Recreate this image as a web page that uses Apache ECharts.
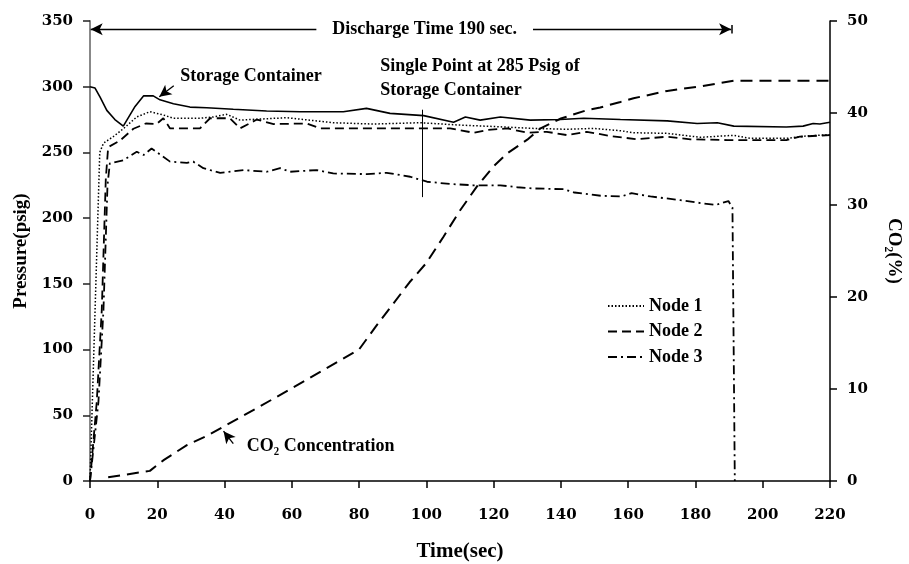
<!DOCTYPE html>
<html><head><meta charset="utf-8">
<script src="https://cdn.jsdelivr.net/npm/echarts@6/dist/echarts.min.js"></script>
<style>html,body{margin:0;padding:0;background:#fff}#c{width:909px;height:564px}</style>
</head><body><div id="c"></div><script>
// ---- data ----
const storageTime = [0,1.5,3,5,7.4,9.9,13.4,15.9,18.8,20.8,24.8,29.7,34.7,42.6,52.5,62.5,75.3,82.2,89.2,99.2,108.1,111.6,116,122,130.9,139.8,146.8,157.7,171.6,180.5,186.5,191.4,207,212,215,217,220];
const storagePressure = [300,299,292,282,275,270,285,293,293,290,287,284.5,284,282.8,281.5,281,281,283.5,279.7,278,273,277,274.6,277,274.6,275,276,275,274,272,272.6,270,269.3,270,272,271.6,273];

const node1Time = [0,2.9,4,6.9,9.9,13.9,17.8,21.8,24.8,32.7,36.7,40.6,44.6,50.5,58.5,67.4,72.3,84.2,98.1,110,122,131.9,141.8,149.7,157.7,161.6,171.6,181.5,191.3,196.3,207,213,220];
const node1Pressure = [0,250,257,262,268,277,281,278.5,276,276,277,279,274.6,275.4,276.4,274,272.6,271.6,272.6,270.8,269.5,268.3,267.6,268.3,266.5,265,264.5,261.5,263,260.7,260.7,262.5,263.5];

const node2Time = [0,2,3.5,4.7,5.4,8.9,12.9,16.6,19.8,21.8,23.8,32.7,35.7,41.6,44.6,49.6,54.6,64.5,68.4,82.3,107.1,114,118,124,130,135.8,141.8,147.7,154.7,162.6,171.6,178.5,189.4,207,211,220];
const node2Pressure = [0,60,130,230,254,259,268,272,271.6,276,268.3,268.3,276,276,268.3,275,271.6,272,268.3,268.3,268.3,265,267,268.3,265,265.7,263.2,265.7,262.5,260,262,260,259.4,259.4,262,263.2];

const node3Time = [0,2.5,4,5.2,5.9,9.9,13.9,15.9,18.3,23.8,28.8,30.7,33.7,38.7,45.6,52.5,56.5,59.5,67.4,72.3,82.3,88.2,95.2,100.2,107.1,114,122,127,131.9,140.8,144,152,158,161,166.6,175.5,181.5,186,189.8,191,191.7];
const node3Pressure = [0,60,130,225,241.7,244,250.5,248,253,243,242,243,238,234.5,236.6,235.3,238,235.3,236.6,234,233.5,234.5,231.5,227.7,226,225,225,223.5,222.6,222,219.5,217,216.5,219,216.5,213.7,211.5,210,213,208,0];

const co2Time = [5.4,17.8,22,28.8,34.7,40.6,50,64.4,80,85,90,95,100,105,110,115,120,124,130,133.8,140,147.6,151.7,157.7,161.6,171.6,181.5,191.4,220];
const co2Percent = [0.4,1.1,2.3,3.9,4.9,6.1,8.0,11.0,14.3,16.8,19.2,21.6,23.7,26.5,29.4,32,34.2,35.6,37.1,38.3,39.4,40.3,40.6,41.2,41.6,42.4,42.9,43.5,43.5];

const xTicks = {min:0,max:220,interval:20};
const pTicks = {min:0,max:350,interval:50};
const cTicks = {min:0,max:50,interval:10};

const legendNames = ['Node 1','Node 2','Node 3'];

// annotation anchors in data coordinates [time, pressure]
const annDischarge = {text:'Discharge Time 190 sec.', at:[99.5,343.7], from:[0.2,343.7], to:[190.6,343.7], bar:[[190.9,340.5],[190.9,347]]};
const annStorage = {text:'Storage Container', at:[26.8,307.6], from:[24.9,300.8], to:[20.6,292.4]};
const annSingle = {text:'Single Point at 285 Psig of\nStorage Container', at:[86.3,306.6], line:[[98.9,282.5],[98.9,216]]};
const annCO2 = {text:'CO\u2082 Concentration', at:[46.6,26.5], from:[42.6,28.5], to:[39.7,37.9]};

// ---- chart ----
const zip = (a,b)=>a.map((v,i)=>[v,b[i]]);
const SERIF = 'Liberation Serif';
const TICKFONT = 'DejaVu Serif';
const chart = echarts.init(document.getElementById('c'), null, {renderer:'canvas'});

const option = {
  animation:false,
  backgroundColor:'#fff',
  grid:{left:90, right:79, top:21, bottom:83, containLabel:false, outerBoundsMode:'none'},
  legend:{
    data:legendNames, orient:'vertical', left:602, top:292,
    itemWidth:36, itemHeight:20, itemGap:7.5,
    itemStyle:{opacity:0},
    lineStyle:{inactiveColor:'#ccc'},
    textStyle:{fontFamily:SERIF, fontWeight:'bold', fontSize:18, color:'#000', padding:[0,0,0,0]}
  },
  xAxis:{
    type:'value', min:xTicks.min, max:xTicks.max, interval:xTicks.interval,
    name:'Time(sec)', nameLocation:'middle', nameGap:60,
    nameTextStyle:{fontFamily:SERIF, fontWeight:'bold', fontSize:21, color:'#000'},
    axisLine:{show:true, lineStyle:{color:'#000', width:1.5}},
    axisTick:{show:true, inside:false, length:7, lineStyle:{color:'#000', width:1.5}},
    axisLabel:{margin:27, fontFamily:TICKFONT, fontWeight:'bold', fontSize:15, color:'#000'},
    splitLine:{show:false}
  },
  yAxis:[{
    type:'value', min:pTicks.min, max:pTicks.max, interval:pTicks.interval, position:'left',
    name:'Pressure(psig)', nameLocation:'middle', nameGap:59,
    nameTextStyle:{fontFamily:SERIF, fontWeight:'bold', fontSize:19, color:'#000'},
    axisLine:{show:true, lineStyle:{color:'#888', width:2}},
    axisTick:{show:true, inside:false, length:7, lineStyle:{color:'#222', width:1.5}},
    axisLabel:{margin:17, fontFamily:TICKFONT, fontWeight:'bold', fontSize:15, color:'#000'},
    splitLine:{show:false}
  },{
    type:'value', min:cTicks.min, max:cTicks.max, interval:cTicks.interval, position:'right',
    name:'CO\u2082(%)', nameLocation:'middle', nameGap:54, nameRotate:-90,
    nameTextStyle:{fontFamily:SERIF, fontWeight:'bold', fontSize:19, color:'#000'},
    axisLine:{show:true, lineStyle:{color:'#000', width:1.5}},
    axisTick:{show:true, inside:false, length:7, lineStyle:{color:'#000', width:1.5}},
    axisLabel:{margin:17, fontFamily:TICKFONT, fontWeight:'bold', fontSize:15, color:'#000'},
    splitLine:{show:false}
  }],
  series:[
    {
      name:'Storage Container', type:'line', yAxisIndex:0, symbol:'none', smooth:false,
      data:zip(storageTime, storagePressure),
      lineStyle:{color:'#000', width:1.6, type:'solid'},
      z:3,
      markLine:{
        silent:true, animation:false, symbolSize:[9,12],
        label:{show:false},
        data:[
          [{coord:annDischarge.from, symbol:'arrow', lineStyle:{color:'#000',width:1.3,type:'solid'}},
           {coord:annDischarge.to, symbol:'arrow'}],
          [{coord:annDischarge.bar[0], symbol:'none', lineStyle:{color:'#000',width:1.5,type:'solid'}},
           {coord:annDischarge.bar[1], symbol:'none'}],
          [{coord:annStorage.from, symbol:'none', lineStyle:{color:'#000',width:1.3,type:'solid'}},
           {coord:annStorage.to, symbol:'arrow'}],
          [{coord:annCO2.from, symbol:'none', lineStyle:{color:'#000',width:1.3,type:'solid'}},
           {coord:annCO2.to, symbol:'arrow'}],
          [{coord:annSingle.line[0], symbol:'none', lineStyle:{color:'#000',width:1,type:'solid'}},
           {coord:annSingle.line[1], symbol:'none'}]
        ]
      }
    },
    {
      name:'Node 1', type:'line', yAxisIndex:0, symbol:'none',
      data:zip(node1Time, node1Pressure),
      lineStyle:{color:'#000', width:1.5, type:[1.5,2]}, itemStyle:{color:'#000'}
    },
    {
      name:'Node 2', type:'line', yAxisIndex:0, symbol:'none',
      data:zip(node2Time, node2Pressure),
      lineStyle:{color:'#000', width:1.8, type:[9,5]}, itemStyle:{color:'#000'}
    },
    {
      name:'Node 3', type:'line', yAxisIndex:0, symbol:'none',
      data:zip(node3Time, node3Pressure),
      lineStyle:{color:'#000', width:1.8, type:[9,4,2,4]}, itemStyle:{color:'#000'}
    },
    {
      name:'CO2 Concentration', type:'line', yAxisIndex:1, symbol:'none',
      data:zip(co2Time, co2Percent),
      lineStyle:{color:'#000', width:2, type:[12,7]}, itemStyle:{color:'#000'}
    }
  ]
};
chart.setOption(option);

function px(pt){ return chart.convertToPixel({xAxisIndex:0, yAxisIndex:0}, pt); }
const annFont = {fontFamily:SERIF, fontWeight:'bold', fontSize:18, fill:'#000'};
const pD = px(annDischarge.at), pS = px(annStorage.at), pSi = px(annSingle.at), pC = px(annCO2.at);
chart.setOption({graphic:[
  {type:'text', z:100, x:pD[0], y:pD[1], style:Object.assign({text:annDischarge.text, align:'center', verticalAlign:'middle', backgroundColor:'#fff', padding:[2,16]}, annFont)},
  {type:'text', z:100, x:pS[0], y:pS[1], style:Object.assign({text:annStorage.text, align:'left', verticalAlign:'middle'}, annFont)},
  {type:'text', z:100, x:pSi[0], y:pSi[1], style:Object.assign({text:annSingle.text, align:'left', verticalAlign:'middle', lineHeight:24}, annFont)},
  {type:'text', z:100, x:pC[0], y:pC[1], style:Object.assign({text:annCO2.text, align:'left', verticalAlign:'middle'}, annFont)}
]});
</script></body></html>
